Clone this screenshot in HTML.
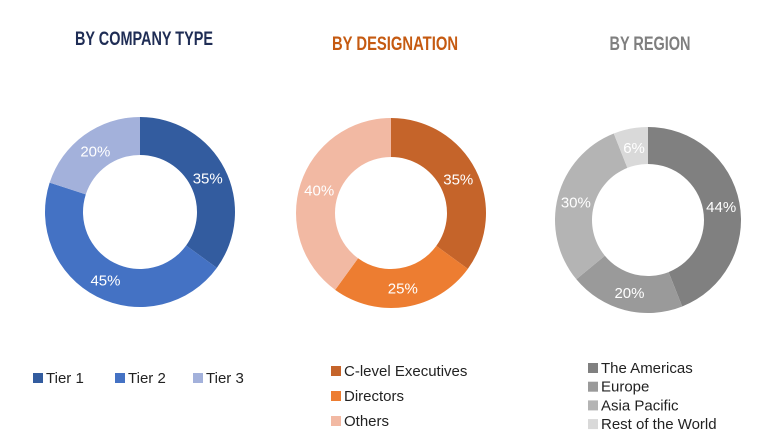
<!DOCTYPE html>
<html><head><meta charset="utf-8"><style>
body{margin:0;width:779px;height:433px;background:#fff;overflow:hidden;font-family:"Liberation Sans Narrow","Liberation Sans",sans-serif}
svg{position:absolute;left:0;top:0}
</style></head><body>
<svg id="c" width="779" height="433"></svg>
<script>
const companyLabels=["Tier 1","Tier 2","Tier 3"];
const companyValues=[35,45,20];
const designationLabels=["C-level Executives","Directors","Others"];
const designationValues=[35,25,40];
const regionLabels=["The Americas","Europe","Asia Pacific","Rest of the World"];
const regionValues=[44,20,30,6];
const NS="http://www.w3.org/2000/svg";
const svg=document.getElementById('c');
function mk(t,a){const e=document.createElementNS(NS,t);for(const k in a)e.setAttribute(k,a[k]);svg.appendChild(e);return e;}
function text(x,y,s,o){const e=mk('text',Object.assign({x:x,y:y},o));e.textContent=s;return e;}
function donut(cx,cy,R,r,vals,cols,name){
 const tot=vals.reduce((a,b)=>a+b,0);let a0=0;
 vals.forEach((v,i)=>{const a1=a0+v/tot*2*Math.PI;
  const p=(a,rr)=>[cx+rr*Math.sin(a),cy-rr*Math.cos(a)];
  const [x1,y1]=p(a0,R),[x2,y2]=p(a1,R),[x3,y3]=p(a1,r),[x4,y4]=p(a0,r);const lg=a1-a0>Math.PI?1:0;
  const path=mk('path',{d:`M${x1} ${y1}A${R} ${R} 0 ${lg} 1 ${x2} ${y2}L${x3} ${y3}A${r} ${r} 0 ${lg} 0 ${x4} ${y4}Z`,fill:cols[i]});
  
  
  const am=(a0+a1)/2,[lx,ly]=p(am,(R+r)/2);
  const t=text(lx,ly+6,v+'%',{fill:'#fff','font-size':15,'text-anchor':'middle'});
  
  
  a0=a1;});
}
function title(x,y,s,c,n,w){const t=text(x-w/2,y,s,{fill:c,'font-size':19,'font-weight':'bold',textLength:w,lengthAdjust:'spacingAndGlyphs'});
 
 }
function leg(x,y,s,c,n){const r=mk('rect',{x:x,y:y-10,width:10,height:10,fill:c});
 
 
 const t=text(x+13,y,s,{fill:'#222','font-size':15});
 
 }
title(144,45,'BY COMPANY TYPE','#1f2d55','company-type-title',138);
title(395,50,'BY DESIGNATION','#c55a11','designation-title',126);
title(650,50,'BY REGION','#7f7f7f','region-title',81);
const c1=['#335c9f','#4472c4','#a3b1db'],c2=['#c5642a','#ed7d31','#f2b9a3'],c3=['#808080','#9a9a9a','#b4b4b4','#d9d9d9'];
donut(140,212,95,57,companyValues,c1,'company');
donut(391,213,95,56,designationValues,c2,'designation');
donut(648,220,93,56,regionValues,c3,'region');
const lx1=[33,115,193];
companyLabels.forEach((l,i)=>leg(lx1[i],383,l,c1[i],'legend-'+l.toLowerCase().replace(/\s+/g,'-')));
designationLabels.forEach((l,i)=>leg(331,376+i*25,l,c2[i],'legend-'+l.toLowerCase().replace(/\s+/g,'-')));
regionLabels.forEach((l,i)=>leg(588,373+i*18.7,l,c3[i],'legend-'+l.toLowerCase().replace(/\s+/g,'-')));
</script>
</body></html>
